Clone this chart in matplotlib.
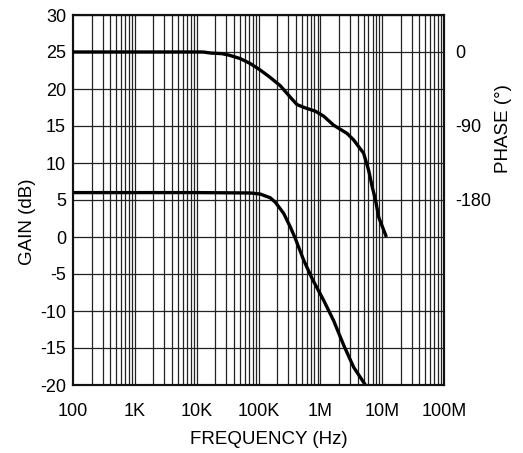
import matplotlib
matplotlib.use("Agg")
import matplotlib.pyplot as plt
import numpy as np

plt.rcParams['font.family'] = ['Liberation Sans', 'DejaVu Sans']
plt.rcParams['axes.unicode_minus'] = False

# Gain curve (dB)
gain_freq = [100, 1e4, 73.5e3, 107e3, 155e3, 187e3, 255e3, 327e3, 394e3, 445e3,
             536e3, 734e3, 1.13e6, 1.64e6, 2.38e6, 3.46e6, 5.35e6]
gain_db = [6.0, 6.0, 5.95, 5.8, 5.3, 4.7, 3.2, 1.35, -0.2, -1.35,
           -3.1, -5.6, -8.55, -11.3, -14.6, -17.6, -20.0]

# Phase curve (degrees)
phase_freq = [100, 12.7e3, 17e3, 25.6e3, 34e3, 50.6e3, 73.5e3, 107e3, 155e3, 225e3,
              327e3, 420e3, 572e3, 830e3, 1.13e6, 1.64e6, 2.7e6, 3.46e6, 5.0e6,
              6.05e6, 6.9e6, 7.8e6, 8.8e6, 11.7e6]
phase_deg = [0, 0, -1.3, -2, -4, -8, -14, -22, -31, -41,
             -55, -64, -68, -72, -78, -89, -99, -107, -123,
             -144, -164, -180, -201, -225]

x_ticks = [1e2, 1e3, 1e4, 1e5, 1e6, 1e7, 1e8]
x_labels = ['100', '1K', '10K', '100K', '1M', '10M', '100M']
gain_ticks = [-20, -15, -10, -5, 0, 5, 10, 15, 20, 25, 30]
phase_ticks = [0, -90, -180]

W, H = 523, 453
fig = plt.figure(figsize=(W/100, H/100), dpi=100)
ax = fig.add_axes([73/W, 1-385/H, (444-73)/W, (385-15)/H])

ax.set_xscale('log')
ax.set_xlim(1e2, 1e8)
ax.set_ylim(-20, 30)

# grid
grid_kw = dict(color='#222222', lw=0.9, zorder=1)
for dec in range(2, 8):
    for m in range(1, 10):
        f = m * 10**dec
        if f > 1e2:
            ax.axvline(f, **grid_kw)
for g in gain_ticks:
    ax.axhline(g, **grid_kw)

ax.plot(gain_freq, gain_db, color='black', lw=2.4, zorder=3, solid_capstyle='butt')

ax2 = ax.twinx()
ax2.set_ylim((-20 - 25) * 9, (30 - 25) * 9)
ax2.plot(phase_freq, phase_deg, color='black', lw=2.4, zorder=3, solid_capstyle='butt')

ax.set_xticks(x_ticks)
ax.set_xticklabels(x_labels)
ax.xaxis.set_minor_locator(matplotlib.ticker.NullLocator())
ax.set_yticks(gain_ticks)
ax2.set_yticks(phase_ticks)
ax2.set_yticklabels([str(p) for p in phase_ticks])

for a in (ax, ax2):
    a.tick_params(axis='both', which='both', length=0, labelsize=13)
    for s in a.spines.values():
        s.set_linewidth(1.5)
        s.set_color('#111111')
ax.tick_params(axis='x', pad=13)
ax.tick_params(axis='y', pad=5)
ax2.tick_params(axis='y', pad=8)

fig.text(269/W, 1-440/H, 'FREQUENCY (Hz)', fontsize=13.5, ha='center', va='center')
fig.text(28/W, 1-222/H, 'GAIN (dB)', fontsize=13.5, rotation=90, ha='center', va='center')
fig.text(504/W, 1-129/H, 'PHASE (°)', fontsize=13.5, rotation=90, ha='center', va='center')

fig.savefig('out.png', dpi=100)
